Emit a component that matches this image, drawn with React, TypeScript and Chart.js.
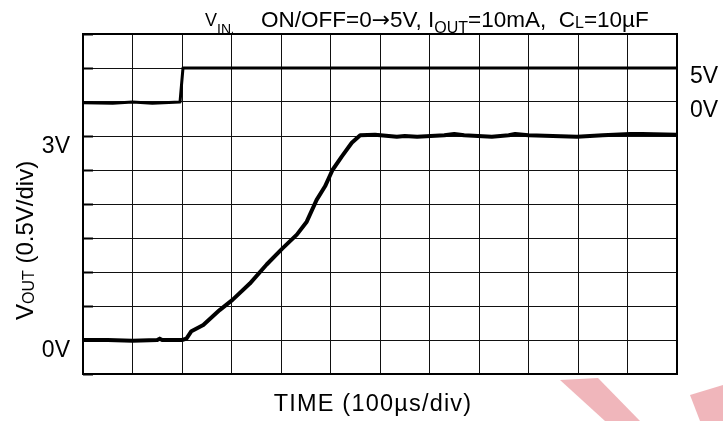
import React, { useEffect, useRef } from "react";
import { Chart, registerables } from "chart.js";

Chart.register(...registerables);

// Time in divisions (100 µs/div), 12 divisions across
const xMin = 0;
const xMax = 12;
// VOUT axis: 0.5 V/div, 10 divisions
const yMin = -0.5;
const yMax = 4.5;
// VIN axis: 5 V/div (0 V on the 2nd line from top)
const y2Min = -40;
const y2Max = 10;

const voutTime = [0, 0.5, 1.0, 1.5, 1.55, 1.6, 2.0, 2.09, 2.19, 2.43, 2.76, 3.02, 3.37, 3.71, 4.02, 4.32, 4.52, 4.72, 4.89, 5.04, 5.23, 5.43, 5.6, 5.9, 6.34, 6.5, 6.75, 7.3, 7.5, 7.7, 8.26, 8.6, 8.73, 9.0, 9.98, 10.5, 11.06, 11.3, 12];
const voutValue = [0.0, 0.0, -0.01, 0.0, 0.02, 0.0, 0.0, 0.02, 0.13, 0.22, 0.44, 0.59, 0.83, 1.11, 1.34, 1.55, 1.74, 2.06, 2.26, 2.5, 2.7, 2.9, 3.01, 3.02, 2.99, 3.0, 2.99, 3.01, 3.03, 3.01, 2.99, 3.01, 3.03, 3.01, 2.99, 3.01, 3.03, 3.03, 3.02];

const vinTime = [0, 0.6, 1.0, 1.4, 1.96, 1.99, 2.02, 12];
const vinValue = [-0.1, -0.2, 0.0, -0.2, 0.0, 2.5, 5.0, 5.0];

const leftTickValues = [3, 0];
const leftTickLabels = ["3V", "0V"];
const rightTickValues = [5, 0];
const rightTickLabels = ["5V", "0V"];

const FONT = '"Liberation Sans", Arial, Helvetica, sans-serif';

type Seg = { t: string; size: number; dy?: number; gap?: number; family?: string };

function drawRich(ctx: CanvasRenderingContext2D, x: number, y: number, segs: Seg[]) {
  let cx = x;
  for (const s of segs) {
    ctx.font = `${s.size}px ${s.family || FONT}`;
    cx += s.gap || 0;
    ctx.fillText(s.t, cx, y + (s.dy || 0));
    cx += ctx.measureText(s.t).width;
  }
  return cx;
}

const decorPlugin = {
  id: "decor",
  afterDatasetsDraw(chart: any) {
    const ctx: CanvasRenderingContext2D = chart.ctx;
    const a = chart.chartArea;
    const ys = chart.scales.y;
    const ys2 = chart.scales.y2;
    ctx.save();
    // frame
    ctx.strokeStyle = "#000";
    ctx.lineWidth = 2;
    ctx.strokeRect(a.left, a.top, a.right - a.left, a.bottom - a.top);
    // short ticks on the left edge
    ctx.lineWidth = 2;
    for (let v = yMin; v <= yMax + 1e-9; v += 0.5) {
      const py = Math.round(ys.getPixelForValue(v)) + 0.5;
      ctx.beginPath();
      ctx.moveTo(a.left, py);
      ctx.lineTo(a.left + 10, py);
      ctx.stroke();
    }
    ctx.fillStyle = "#000";
    ctx.textBaseline = "alphabetic";
    // left labels
    ctx.textAlign = "right";
    ctx.font = `23px ${FONT}`;
    leftTickValues.forEach((v, i) => {
      ctx.fillText(leftTickLabels[i], a.left - 13, ys.getPixelForValue(v) + 17);
    });
    // right labels
    ctx.textAlign = "left";
    rightTickValues.forEach((v, i) => {
      ctx.fillText(rightTickLabels[i], a.right + 13, ys2.getPixelForValue(v) + 15);
    });
    // title
    drawRich(ctx, 205, 26, [
      { t: "V", size: 18 },
      { t: "IN", size: 14, dy: 8 },
      { t: ",", size: 10, dy: 7 },
    ]);
    drawRich(ctx, 261, 27, [
      { t: "ON/OFF=0", size: 22.5 },
      { t: "\u2192", size: 22, family: '"DejaVu Sans", sans-serif' },
      { t: "5V, ", size: 22.5 },
      { t: "I", size: 22.5 },
      { t: "OUT", size: 16, dy: 6 },
      { t: "=10mA,  C", size: 22.5 },
      { t: "L", size: 16, dy: 1 },
      { t: "=10\u00B5F", size: 22.5 },
    ]);
    // x title
    ctx.textAlign = "center";
    ctx.font = `23.5px ${FONT}`;
    (ctx as any).letterSpacing = "1.2px";
    ctx.fillText("TIME (100\u00B5s/div)", (a.left + a.right) / 2 - 7, 411);
    (ctx as any).letterSpacing = "0px";
    // y title (rotated)
    ctx.textAlign = "left";
    ctx.translate(33, 320);
    ctx.rotate(-Math.PI / 2);
    drawRich(ctx, 0, 0, [
      { t: "V", size: 24 },
      { t: "OUT", size: 16, dy: 1 },
      { t: " (0.5V/div)", size: 24 },
    ]);
    ctx.restore();
    // faint watermark fragments
    ctx.save();
    ctx.fillStyle = "rgba(225,110,120,0.5)";
    ctx.beginPath();
    ctx.moveTo(560, 380);
    ctx.lineTo(598, 378);
    ctx.lineTo(640, 421);
    ctx.lineTo(605, 421);
    ctx.closePath();
    ctx.fill();
    ctx.beginPath();
    ctx.moveTo(690, 395);
    ctx.lineTo(723, 385);
    ctx.lineTo(723, 421);
    ctx.lineTo(700, 421);
    ctx.closePath();
    ctx.fill();
    ctx.restore();
  },
};

export default function App() {
  const ref = useRef<HTMLCanvasElement | null>(null);
  useEffect(() => {
    document.body.style.margin = "0";
    const canvas = ref.current;
    if (!canvas) return;
    const chart = new Chart(canvas, {
      type: "line",
      data: {
        datasets: [
          {
            label: "VOUT",
            data: voutTime.map((t, i) => ({ x: t, y: voutValue[i] })),
            borderColor: "#000",
            borderWidth: 4,
            pointRadius: 0,
            tension: 0,
            yAxisID: "y",
            borderJoinStyle: "round",
            borderCapStyle: "round",
          },
          {
            label: "VIN",
            data: vinTime.map((t, i) => ({ x: t, y: vinValue[i] })),
            borderColor: "#000",
            borderWidth: 3,
            pointRadius: 0,
            tension: 0,
            yAxisID: "y2",
            borderJoinStyle: "round",
          },
        ],
      },
      options: {
        responsive: false,
        animation: false,
        devicePixelRatio: 1,
        layout: { padding: { left: 83, right: 46, top: 34, bottom: 47 } },
        plugins: { legend: { display: false }, tooltip: { enabled: false } },
        scales: {
          x: {
            type: "linear",
            min: xMin,
            max: xMax,
            ticks: { stepSize: 1, display: false },
            grid: { color: "#111", lineWidth: 1, drawTicks: false },
            border: { display: false },
          },
          y: {
            type: "linear",
            min: yMin,
            max: yMax,
            ticks: { stepSize: 0.5, display: false },
            grid: { color: "#111", lineWidth: 1, drawTicks: false },
            border: { display: false },
          },
          y2: {
            type: "linear",
            position: "right",
            min: y2Min,
            max: y2Max,
            display: false,
          },
        },
      },
      plugins: [decorPlugin],
    } as any);
    return () => chart.destroy();
  }, []);
  return (
    <div style={{ width: 723, height: 421, background: "#fff" }}>
      <canvas ref={ref} width={723} height={421} style={{ display: "block" }} />
    </div>
  );
}
